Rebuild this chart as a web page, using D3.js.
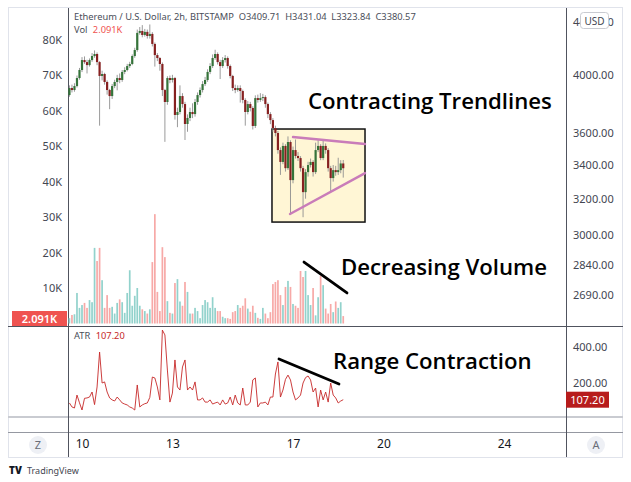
<!DOCTYPE html>
<html><head><meta charset="utf-8">
<script src="https://cdn.jsdelivr.net/npm/d3@7"></script>
<style>body{margin:0;background:#fff}svg{display:block}text{font-family:"Noto Sans",sans-serif}</style>
</head><body>
<svg id="c" width="631" height="482"></svg>
<script>
// ---- data (ETH/USD 2h, Bitstamp, May 2021) ----
const startTime = Date.UTC(2021, 4, 9, 14);
const stepMs = 2 * 3600 * 1000;
const firstOpen = 3857;
const closes = [3906,3892,3920,3977,4035,4108,4093,4071,4108,4138,
4153,4093,3992,4006,3949,3892,3850,3920,3949,3977,
3963,4021,4035,4064,4079,4138,4183,4314,4329,4298,
4322,4290,4306,4229,4145,4123,4079,3892,3809,3977,
3963,3977,3721,3741,3850,3795,3661,3701,3741,3727,
3809,3857,3892,3934,3963,4021,4064,4123,4153,4093,
4064,4108,4123,4064,3992,3906,3892,3906,3885,3823,
3741,3795,3768,3648,3836,3823,3836,3843,3795,3727,
3687,3634,3602,3493,3419,3519,3381,3544,3309,3493,
3456,3443,3381,3238,3357,3400,3419,3357,3493,3519,
3443,3519,3493,3381,3321,3369,3357,3369,3409.71,3380.57];
const highs = [3925,3930,3940,3995,4050,4130,4135,4110,4120,4160,
4180,4165,4100,4030,4015,3960,3900,3935,3965,4000,
4010,4035,4055,4080,4095,4150,4200,4340,4360,4375,
4345,4340,4380,4320,4240,4160,4130,4090,3900,3990,
3995,4000,3985,3770,3925,3870,3810,3725,3770,3800,
3830,3875,3910,3955,3985,4040,4085,4150,4185,4165,
4110,4130,4145,4135,4075,4000,3930,3925,3925,3895,
3835,3815,3810,3780,3855,3860,3870,3865,3855,3805,
3740,3700,3650,3615,3510,3540,3530,3580,3555,3515,
3560,3480,3455,3395,3375,3420,3440,3430,3540,3560,
3530,3555,3535,3505,3395,3400,3395,3445,3430,3431.04];
const lows = [3845,3875,3880,3910,3965,4020,4080,4010,4060,4095,
4125,4070,3650,3960,3930,3860,3760,3830,3905,3890,
3940,3950,4005,4025,4050,4070,4125,4170,4300,4280,
4285,4270,4270,4210,4060,4100,4030,3850,3545,3790,
3940,3945,3690,3640,3725,3770,3557,3610,3680,3700,
3710,3790,3840,3875,3920,3950,4005,4050,4110,4075,
3970,4050,4090,4045,3975,3885,3870,3880,3805,3800,
3650,3725,3745,3625,3635,3805,3810,3815,3770,3700,
3660,3610,3580,3470,3340,3405,3360,3370,3110,3290,
3440,3425,3360,3095,3200,3330,3385,3330,3345,3480,
3430,3430,3470,3360,3240,3300,3335,3340,3350,3323.84];
const volumes = [1.5,2.4,2.6,8.6,4.4,5.2,5.8,4.4,6.6,6.0,
21.3,17.6,21.3,12.2,4.4,8.0,4.4,4.7,2.8,5.8,
6.8,6.0,3.0,8.6,15.0,5.0,7.8,10.0,5.0,4.0,
3.5,2.8,4.0,17.3,30.8,8.9,3.5,21.5,18.7,6.3,
3.0,2.8,11.4,12.5,6.2,5.0,11.7,8.9,2.8,2.8,
4.4,3.5,1.5,5.2,6.6,6.0,4.4,7.4,4.4,3.5,
3.5,1.9,1.5,1.5,1.3,3.2,3.5,5.2,4.4,5.0,
7.1,4.2,3.3,5.0,3.0,1.6,1.3,4.4,2.8,1.5,
3.2,11.1,11.7,12.2,8.0,5.2,10.3,12.0,10.3,5.5,
5.0,4.4,14.8,13.1,14.8,8.0,5.2,10.0,2.3,7.4,
13.4,10.8,4.2,2.8,5.5,3.2,6.2,4.4,6.0,2.091];
const atrValues = [89,67,61,133,90,50,115,117,122,150,
80,178,372,200,206,150,117,106,100,122,
106,89,83,78,67,61,50,189,67,78,
85,89,120,233,228,178,106,494,467,272,
94,144,328,178,161,289,328,161,178,161,
206,106,106,117,94,94,106,83,89,94,
78,106,83,89,122,78,133,89,78,172,
78,78,94,217,228,67,89,89,94,78,
122,122,250,317,122,161,220,244,217,150,
106,117,133,200,230,239,217,150,172,67,
161,106,150,94,200,133,117,89,100,107.2];
const volTicks = [10,20,30,40,50,60,70,80];
const priceTicks = [2690,2840,3000,3200,3400,3600,4000,4400];
const atrTicks = [200,400];
const timeTickDays = [10,13,17,20,24];
// annotations (time, value)
const boxCorners = [[Date.UTC(2021,4,16,7,16),3628],[Date.UTC(2021,4,19,9,20),3068]];
const upperTrend = [[Date.UTC(2021,4,17,0,0),3576],[Date.UTC(2021,4,19,9,20),3531]];
const lowerTrend = [[Date.UTC(2021,4,16,21,36),3113],[Date.UTC(2021,4,19,9,20),3351]];
const volTrend = [[Date.UTC(2021,4,17,8,45),17.3],[Date.UTC(2021,4,18,19,0),8.6]];
const atrTrend = [[Date.UTC(2021,4,16,12,50),333],[Date.UTC(2021,4,18,12,37),194]];

// ---- derived rows ----
const candles = closes.map((c,i)=>({
  t: new Date(startTime + i*stepMs),
  o: i===0 ? firstOpen : closes[i-1], h: highs[i], l: lows[i], c: c,
  v: volumes[i], atr: atrValues[i]
}));

const svg = d3.select("#c");
const x = d3.scaleUtc().domain([new Date(Date.UTC(2021,4,10)), new Date(Date.UTC(2021,4,24))]).range([82,504]);
const yP = d3.scaleLog().domain([2544,4512]).range([326,8]);
const yV = d3.scaleLinear().domain([0,80]).range([323.5,39.5]);
const yA = d3.scaleLinear().domain([0,400]).range([419,347]);

// frame
svg.append("rect").attr("x",8.5).attr("y",7.5).attr("width",614).attr("height",450).attr("fill","#fff").attr("stroke","#e0e3eb");
const lineC = "#50535e";
svg.append("line").attr("x1",8).attr("x2",623).attr("y1",326.5).attr("y2",326.5).attr("stroke",lineC);
svg.append("line").attr("x1",8).attr("x2",623).attr("y1",417).attr("y2",417).attr("stroke","#c9cbd1").attr("stroke-width",2);
svg.append("line").attr("x1",8).attr("x2",623).attr("y1",432.5).attr("y2",432.5).attr("stroke","#9598a1");
svg.append("line").attr("x1",68.5).attr("x2",68.5).attr("y1",8).attr("y2",457).attr("stroke",lineC);
svg.append("line").attr("x1",566.5).attr("x2",566.5).attr("y1",8).attr("y2",457).attr("stroke",lineC);

// axes
const axStyle = g => {
  g.select(".domain").remove();
  g.selectAll("text").attr("fill","#434651").style("font-size","11px").style("font-family","'Noto Sans',sans-serif");
};
svg.append("g").attr("transform","translate(566,0)")
  .call(d3.axisRight(yP).tickValues(priceTicks).tickFormat(d3.format(".2f")).tickSize(0).tickPadding(7))
  .call(axStyle);
svg.append("g").attr("transform","translate(68,0)")
  .call(d3.axisLeft(yV).tickValues(volTicks).tickFormat(d=>d+"K").tickSize(0).tickPadding(6))
  .call(axStyle);
svg.append("g").attr("transform","translate(566,0)")
  .call(d3.axisRight(yA).tickValues(atrTicks).tickFormat(d3.format(".2f")).tickSize(0).tickPadding(7))
  .call(axStyle);
svg.append("g").attr("transform","translate(0,432)")
  .call(d3.axisBottom(x).tickValues(timeTickDays.map(d=>new Date(Date.UTC(2021,4,d)))).tickFormat(d3.utcFormat("%-d")).tickSize(0).tickPadding(7))
  .call(axStyle)
  .call(g=>g.selectAll("text").style("font-size","12px").attr("fill","#131722"));

// volume bars
const bw = 1.7;
svg.append("g").selectAll("rect").data(candles).join("rect")
  .attr("x",d=>x(d.t)-bw/2).attr("width",bw)
  .attr("y",d=>yV(d.v)).attr("height",d=>yV(0)-yV(d.v))
  .attr("fill",d=>d.c>=d.o ? "#92d2cc" : "#f7a9a7");

// annotation box
svg.append("rect")
  .attr("x",x(new Date(boxCorners[0][0]))).attr("y",yP(boxCorners[0][1]))
  .attr("width",x(new Date(boxCorners[1][0]))-x(new Date(boxCorners[0][0])))
  .attr("height",yP(boxCorners[1][1])-yP(boxCorners[0][1]))
  .attr("fill","#fff6d5").attr("stroke","#111").attr("stroke-width",1.5);

// candles
const cg = svg.append("g");
cg.selectAll("line").data(candles).join("line")
  .attr("x1",d=>x(d.t)).attr("x2",d=>x(d.t))
  .attr("y1",d=>yP(d.h)).attr("y2",d=>yP(d.l))
  .attr("stroke","#8f8f8f").attr("stroke-width",0.9);
cg.selectAll("rect").data(candles).join("rect")
  .attr("x",d=>x(d.t)-1.1).attr("width",2.2)
  .attr("y",d=>yP(Math.max(d.o,d.c)))
  .attr("height",d=>Math.max(1,Math.abs(yP(d.o)-yP(d.c))))
  .attr("fill",d=>d.c>=d.o ? "#35733a" : "#862020");

// trend lines
const seg = (pts, ys, color, w) => svg.append("line")
  .attr("x1",x(new Date(pts[0][0]))).attr("y1",ys(pts[0][1]))
  .attr("x2",x(new Date(pts[1][0]))).attr("y2",ys(pts[1][1]))
  .attr("stroke",color).attr("stroke-width",w).attr("stroke-linecap","round");
seg(upperTrend, yP, "#c97cb9", 2.4);
seg(lowerTrend, yP, "#c97cb9", 2.4);
seg(volTrend, yV, "#000", 2.8);
seg(atrTrend, yA, "#000", 2.8);

// ATR line
svg.append("path").datum(candles)
  .attr("d", d3.line().x(d=>x(d.t)).y(d=>yA(d.atr)))
  .attr("fill","none").attr("stroke","#c62828").attr("stroke-width",0.9);

// annotation texts
const big = (t, tx, ty) => svg.append("text").attr("x",tx).attr("y",ty).text(t)
  .style("font-family","'Open Sans',sans-serif").style("font-weight","600").style("font-size","22.2px").attr("fill","#000");
big("Contracting Trendlines", 308, 109);
big("Decreasing Volume", 341, 275);
big("Range Contraction", 333, 369);

// header legend
const hdr = svg.append("text").attr("x",74).attr("y",20).style("font-size","9.3px").attr("fill","#4a4e59");
hdr.text("Ethereum / U.S. Dollar, 2h, BITSTAMP  O3409.71  H3431.04  L3323.84  C3380.57").attr("xml:space","preserve");
const vt = svg.append("text").attr("x",74).attr("y",33).style("font-size","9.3px").attr("fill","#4a4e59");
vt.append("tspan").text("Vol ");
vt.append("tspan").attr("dx",3).attr("fill","#ef5350").text("2.091K");
const at = svg.append("text").attr("x",74).attr("y",339).style("font-size","9.3px").attr("fill","#4a4e59");
at.append("tspan").text("ATR ");
at.append("tspan").attr("dx",3).attr("fill","#c62828").text("107.20");

// last value labels
svg.append("rect").attr("x",12).attr("y",311).attr("width",55).attr("height",15).attr("fill","#ef5350");
svg.append("text").attr("x",39.5).attr("y",322.5).attr("text-anchor","middle").attr("fill","#fff").style("font-size","11px").style("font-weight","600").text("2.091K");
svg.append("rect").attr("x",566).attr("y",yA(107.2)-8).attr("width",43).attr("height",16).attr("fill","#b71c1c");
svg.append("text").attr("x",587.5).attr("y",yA(107.2)+4).attr("text-anchor","middle").attr("fill","#fff").style("font-size","11px").text("107.20");

// USD badge
svg.append("rect").attr("x",580.5).attr("y",12.5).attr("width",28).attr("height",16).attr("rx",3).attr("fill","#fff").attr("stroke","#c9cbd1");
svg.append("text").attr("x",594.5).attr("y",24.5).attr("text-anchor","middle").attr("fill","#434651").style("font-size","10px").text("USD");

// Z / A buttons
[[38,"Z"],[596,"A"]].forEach(([cx,t])=>{
  svg.append("circle").attr("cx",cx).attr("cy",445).attr("r",9).attr("fill","#eef0f5");
  svg.append("text").attr("x",cx).attr("y",449).attr("text-anchor","middle").attr("fill","#6a6d78").style("font-size","11px").text(t);
});

// TradingView mark
svg.append("text").attr("x",9).attr("y",474).style("font-size","10px").style("font-weight","900").attr("fill","#131722").text("TV");
svg.append("text").attr("x",27).attr("y",474).style("font-size","9px").attr("fill","#434651").text("TradingView");
</script>
</body></html>
